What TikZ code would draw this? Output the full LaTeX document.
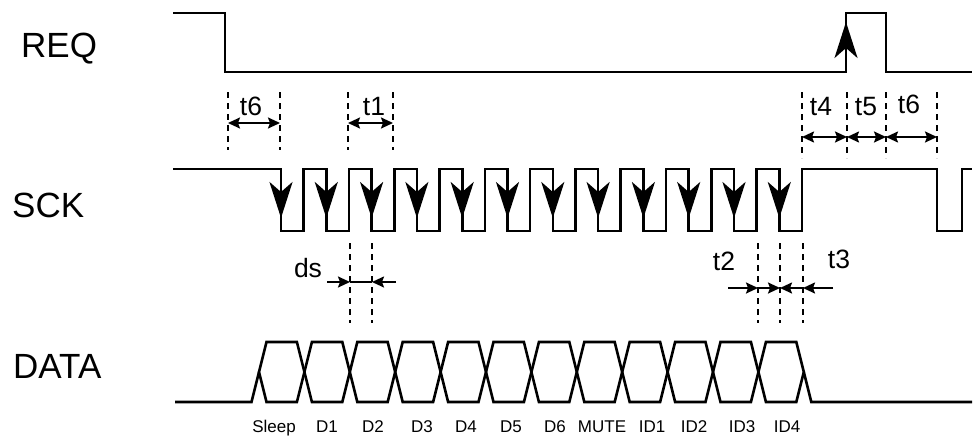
\documentclass[tikz,border=0pt]{standalone}
\usepackage{fontspec}
\setmainfont{Liberation Sans}
\usetikzlibrary{arrows.meta}

\begin{document}
\begin{tikzpicture}[x=1pt, y=-1pt,
    wave/.style={line width=2.6pt, line join=miter},
    edge/.style={line width=2.6pt, -{Stealth[length=36pt, width=23pt, inset=10pt]}},
    guide/.style={line width=1.5pt, dash pattern=on 6pt off 5pt},
    dim/.style={line width=2pt, {Stealth[length=12pt, width=11pt, inset=2pt]}-{Stealth[length=12pt, width=11pt, inset=2pt]}},
    half/.style={line width=2pt, -{Stealth[length=12pt, width=11pt, inset=2pt]}},
    sig/.style={font=\fontsize{35}{40}\selectfont, anchor=base west, inner sep=0pt},
    tlab/.style={font=\fontsize{26.5}{30}\selectfont, anchor=base, inner sep=0pt},
    bit/.style={font=\fontsize{17}{20}\selectfont, anchor=base, inner sep=0pt}]
  \useasboundingbox (0,0) rectangle (973,436);

  % signal names
  \node[sig] (req) at (21,57) {REQ};
  \node[sig] (sck) at (12,217) {SCK};
  \node[sig] (data) at (13,378) {DATA};

  % REQ
  \draw[wave] (173,13) -- (225,13) -- (225,72) -- (846,72) -- (846,13) -- (886,13) -- (886,72) -- (972,72);
  \draw[edge] (846,72) -- (846,22);

  % SCK
  \draw[wave] (173,169) \foreach \i in {0,...,11} {
      -- ({281+45.3*\i},169) -- ({281+45.3*\i},231) -- ({303.6+45.3*\i},231) -- ({303.6+45.3*\i},169)}
    -- (937,169) -- (937,231) -- (962,231) -- (962,169) -- (972,169);
  \foreach \i in {0,...,11}
    \draw[edge] ({281+45.3*\i},175) -- ({281+45.3*\i},218);

  % DATA
  \draw[wave] (175,402) -- (251.5,402) -- (259,372);
  \foreach \i in {0,...,11}
    \draw[wave] ({259+45.4*\i},372) -- ({266.5+45.4*\i},342) -- ({296.9+45.4*\i},342) -- ({304.4+45.4*\i},372)
      -- ({296.9+45.4*\i},402) -- ({266.5+45.4*\i},402) -- cycle;
  \draw[wave] (803.8,372) -- (811.3,402) -- (972,402);
  \foreach \x/\t in {274/Sleep, 327/D1, 373/D2, 422/D3, 466/D4, 511/D5, 555/D6, 602/MUTE, 652/ID1, 694/ID2, 742/ID3, 787/ID4}
    \node[bit] (b-\t) at (\x,432) {\t};

  % t6, t1
  \foreach \n/\x in {a/228, b/280, c/348, d/393} {
    \draw[guide] (\x,92) -- (\x,150);
    \coordinate (\n) at (\x,123);
  }
  \draw[dim] (a) -- (b);
  \draw[dim] (c) -- (d);
  \node[tlab] (t6a) at (251,115) {t6};
  \node[tlab] (t1) at (374,115) {t1};

  % t4, t5, t6
  \foreach \n/\x in {e/802, f/847, g/886, h/937} {
    \draw[guide] (\x,92) -- (\x,158);
    \coordinate (\n) at (\x,137);
  }
  \draw[dim] (e) -- (f);
  \draw[dim] (f) -- (g);
  \draw[dim] (g) -- (h);
  \node[tlab] (t4) at (821,115) {t4};
  \node[tlab] (t5) at (866,115) {t5};
  \node[tlab] (t6b) at (909,113) {t6};

  % ds
  \foreach \n/\x in {ds1/350, ds2/372} {
    \draw[guide] (\x,243) -- (\x,323);
    \coordinate (\n) at (\x,282);
  }
  \coordinate (ds0) at (327,282);
  \coordinate (ds3) at (396,282);
  \draw[half] (ds0) -- (ds1);
  \draw[line width=2pt] (ds1) -- (ds2);
  \draw[half] (ds3) -- (ds2);
  \node[tlab] (ds) at (308,277) {ds};

  % t2, t3
  \foreach \n/\x in {u1/758, u2/780, u3/803} {
    \draw[guide] (\x,243) -- (\x,323);
    \coordinate (\n) at (\x,288);
  }
  \coordinate (u0) at (728,288);
  \coordinate (u4) at (833,288);
  \draw[half] (u0) -- (u1);
  \draw[half] (u1) -- (u2);
  \draw[half] (u3) -- (u2);
  \draw[half] (u4) -- (u3);
  \node[tlab] (t2) at (724,270) {t2};
  \node[tlab] (t3) at (839,268) {t3};
\end{tikzpicture}
\end{document}
